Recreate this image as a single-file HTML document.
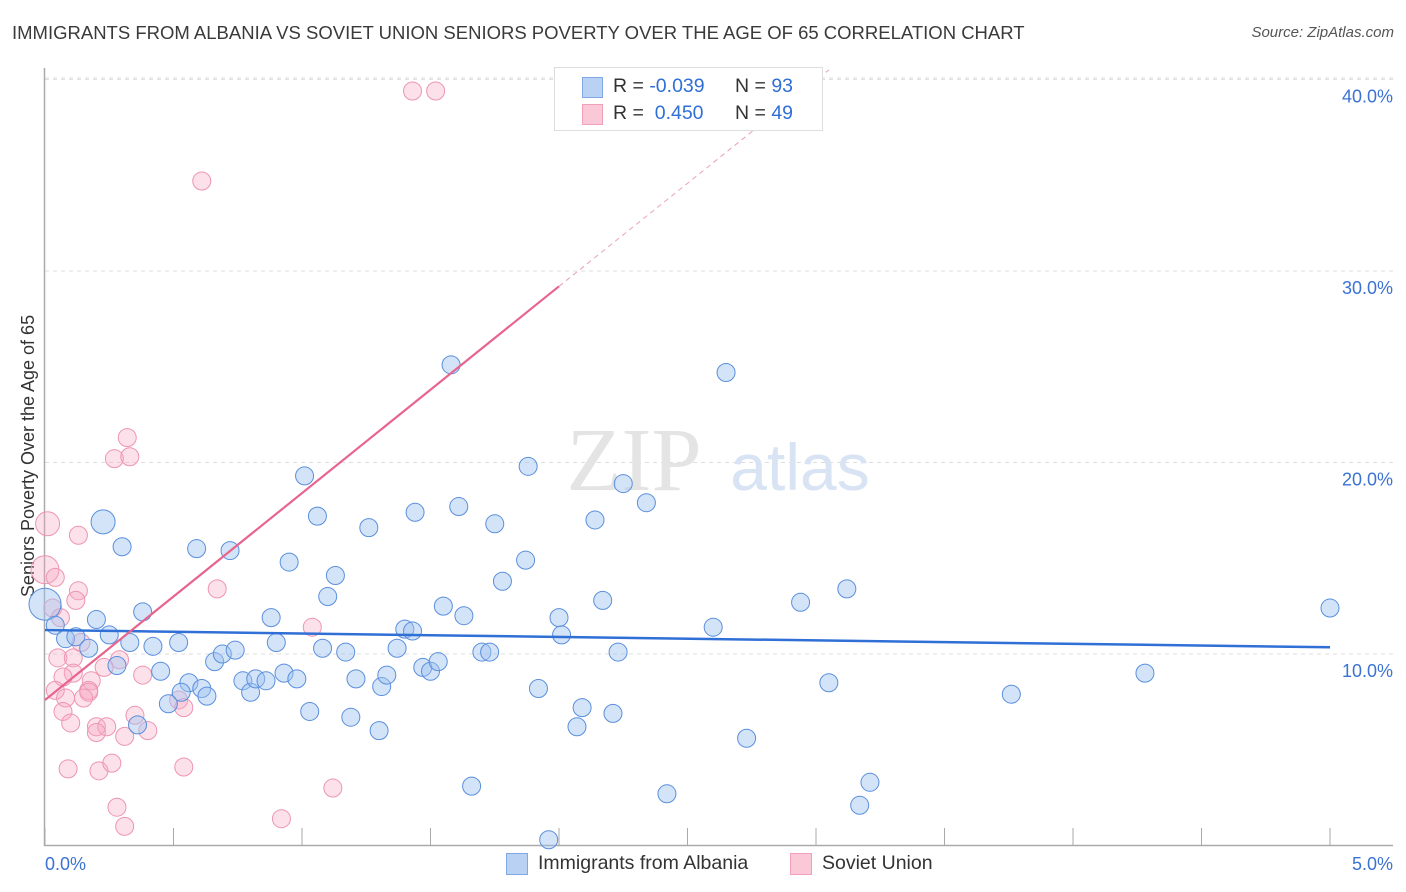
<!DOCTYPE html>
<html><head><meta charset="utf-8"><style>
body{margin:0;background:#fff;font-family:"Liberation Sans",sans-serif;}
#wrap{position:relative;width:1406px;height:892px;overflow:hidden}
.t{position:absolute;white-space:nowrap}
</style></head><body><div id="wrap">
<div class="t" style="left:12px;top:22px;font-size:18.5px;color:#3a3a3a">IMMIGRANTS FROM ALBANIA VS SOVIET UNION SENIORS POVERTY OVER THE AGE OF 65 CORRELATION CHART</div>
<div class="t" style="right:12px;top:24px;font-size:15px;color:#555;font-style:italic">Source: ZipAtlas.com</div>
<svg id="svg" width="1406" height="892" style="position:absolute;left:0;top:0"></svg>
</div>
<script>
const xTicks=[0,0.5,1,1.5,2,2.5,3,3.5,4,4.5,5];
const yTicks=[10,20,30,40];
const yTickLabels=["10.0%","20.0%","30.0%","40.0%"];
const xEndLabels=["0.0%","5.0%"];
const blueX=[0.226,0.30,0,0.04,0.20,0.38,0.25,0.08,0.12,0.17,0.33,0.42,0.52,0.28,0.45,0.36,0.59,0.72,0.56,0.53,0.48,0.61,0.63,0.66,0.69,0.74,0.77,0.80,0.82,0.86,0.88,0.90,0.93,0.98,0.95,1.01,1.03,1.06,1.10,1.13,1.08,1.17,1.19,1.21,1.26,1.30,1.31,1.33,1.37,1.40,1.43,1.44,1.47,1.50,1.53,1.55,1.58,1.61,1.63,1.66,1.70,1.73,1.75,1.78,1.87,1.88,1.92,1.96,2.00,2.01,2.07,2.09,2.14,2.17,2.21,2.23,2.25,2.34,2.42,2.60,2.65,2.73,2.94,3.05,3.12,3.17,3.21,3.76,4.28,5.00];
const blueY=[16.9,15.6,12.6,11.5,11.8,12.2,11.0,10.8,10.9,10.3,10.6,10.4,10.6,9.4,9.1,6.3,15.5,15.4,8.5,8.0,7.4,8.2,7.8,9.6,10.0,10.2,8.6,8.0,8.7,8.6,11.9,10.6,9.0,8.7,14.8,19.3,7.0,17.2,13.0,14.1,10.3,10.1,6.7,8.7,16.6,6.0,8.3,8.9,10.3,11.3,11.2,17.4,9.3,9.1,9.6,12.5,25.1,17.7,12.0,3.1,10.1,10.1,16.8,13.8,14.9,19.8,8.2,0.3,11.9,11.0,6.2,7.2,17.0,12.8,6.9,10.1,18.9,17.9,2.7,11.4,24.7,5.6,12.7,8.5,13.4,2.1,3.3,7.9,9.0,12.4];
const blueR=[12,9,16,9,9,9,9,9,9,9,9,9,9,9,9,9,9,9,9,9,9,9,9,9,9,9,9,9,9,9,9,9,9,9,9,9,9,9,9,9,9,9,9,9,9,9,9,9,9,9,9,9,9,9,9,9,9,9,9,9,9,9,9,9,9,9,9,9,9,9,9,9,9,9,9,9,9,9,9,9,9,9,9,9,9,9,9,9,9,9];
const pinkX=[1.43,1.52,0.61,0.32,0.27,0.33,0.01,0.13,0,0.04,0.13,0.12,0.67,0.03,0.06,1.04,0.14,0.05,0.11,0.29,0.23,0.11,0.07,0.18,0.38,0.04,0.17,0.17,0.08,0.15,0.52,0.54,0.07,0.10,0.35,0.20,0.24,0.20,0.40,0.31,0.09,0.21,0.26,0.54,1.12,0.28,0.31,0.92];
const pinkY=[39.4,39.4,34.7,21.3,20.2,20.3,16.8,16.2,14.4,14.0,13.3,12.8,13.4,12.4,11.9,11.4,10.6,9.8,9.8,9.7,9.3,9.0,8.8,8.6,8.9,8.1,8.1,8.0,7.7,7.7,7.6,7.2,7.0,6.4,6.8,6.2,6.2,5.9,6.0,5.7,4.0,3.9,4.3,4.1,3.0,2.0,1.0,1.4];
const pinkR=[9,9,9,9,9,9,12,9,14,9,9,9,9,9,9,9,9,9,9,9,9,9,9,9,9,9,9,9,9,9,9,9,9,9,9,9,9,9,9,9,9,9,9,9,9,9,9,9,9];
const blueTrend=[11.25,10.35];
const pinkTrend=[7.6,29.2,40.5];
const pinkTrendX=[0,2.0,3.05];

const NS="http://www.w3.org/2000/svg";
const svg=document.getElementById('svg');
const X=v=>45+v*257, Y=v=>845.5-v*19.15;
function mk(tag,attrs){const e=document.createElementNS(NS,tag);for(const k in attrs)e.setAttribute(k,attrs[k]);svg.appendChild(e);return e;}
// gridlines
yTicks.forEach((t,i)=>{
 const g=mk('line',{x1:45,x2:1393,y1:Y(t),y2:Y(t),stroke:'#ddd','stroke-dasharray':'4,4'});
 
 
 const tx=mk('text',{x:1393,y:Y(t)+23,'text-anchor':'end','font-size':18,fill:'#3b72d4','font-family':'Liberation Sans'});
 tx.textContent=yTickLabels[i];
 
 
});
const tl=mk('line',{x1:45,x2:1393,y1:78,y2:78,stroke:'#ddd','stroke-dasharray':'4,4'});


// axes
const ya=mk('line',{x1:44.5,x2:44.5,y1:68,y2:846,stroke:'#aaa','stroke-width':1.5});


const xa=mk('line',{x1:44,x2:1393,y1:845.5,y2:845.5,stroke:'#aaa','stroke-width':1.5});


xTicks.forEach(t=>{const l=mk('line',{x1:X(t),x2:X(t),y1:828,y2:846,stroke:'#aaa'});
 
 });
const x0=mk('text',{x:45,y:870,'font-size':18,fill:'#3b72d4','font-family':'Liberation Sans'});x0.textContent=xEndLabels[0];


const x1=mk('text',{x:1393,y:870,'text-anchor':'end','font-size':18,fill:'#3b72d4','font-family':'Liberation Sans'});x1.textContent=xEndLabels[1];


const yt=mk('text',{x:0,y:0,transform:'translate(34,456) rotate(-90)','text-anchor':'middle','font-size':18,fill:'#333','font-family':'Liberation Sans'});yt.textContent='Seniors Poverty Over the Age of 65';


// watermark
const w1=mk('text',{x:634,y:490,'text-anchor':'middle','font-size':90,fill:'#e4e4e4','font-family':'Liberation Serif'});w1.textContent='ZIP';


const w2=mk('text',{x:800,y:490,'text-anchor':'middle','font-size':66,fill:'#d8e4f4','font-family':'Liberation Sans'});w2.textContent='atlas';


// points
pinkX.forEach((v,i)=>{const c=mk('circle',{cx:X(v),cy:Y(pinkY[i]),r:pinkR[i]||9,fill:'rgba(246,170,195,0.35)',stroke:'#ee95b1','stroke-width':1});
 
 });
blueX.forEach((v,i)=>{const c=mk('circle',{cx:X(v),cy:Y(blueY[i]),r:blueR[i]||9,fill:'rgba(160,195,240,0.45)',stroke:'#5a8fdd','stroke-width':1});
 
 });
// trends
const bt=mk('line',{x1:X(0),x2:X(5),y1:Y(blueTrend[0]),y2:Y(blueTrend[1]),stroke:'#2f6fd6','stroke-width':2.5});


const pt=mk('line',{x1:X(pinkTrendX[0]),x2:X(pinkTrendX[1]),y1:Y(pinkTrend[0]),y2:Y(pinkTrend[1]),stroke:'#e8648f','stroke-width':2.2});


const pd=mk('line',{x1:X(pinkTrendX[1]),x2:X(pinkTrendX[2]),y1:Y(pinkTrend[1]),y2:Y(pinkTrend[2]),stroke:'#eaa0b8','stroke-width':1,'stroke-dasharray':'5,4'});


</script>
<div style="position:absolute;left:554px;top:67px;width:267px;height:62px;border:1px solid #ddd;background:#fff;font-size:19.5px;color:#333">
 <div style="position:absolute;left:27px;top:9px;width:19px;height:19px;background:#b9d2f4;border:1px solid #7fa8e4"></div>
 <div style="position:absolute;left:27px;top:36px;width:19px;height:19px;background:#fbc8d8;border:1px solid #f0a0bb"></div>
 <div class="t" style="left:58px;top:7px">R = <span style="color:#2f6fd6">-0.039</span></div>
 <div class="t" style="left:180px;top:7px">N = <span style="color:#2f6fd6">93</span></div>
 <div class="t" style="left:58px;top:34px">R = &nbsp;<span style="color:#2f6fd6">0.450</span></div>
 <div class="t" style="left:180px;top:34px">N = <span style="color:#2f6fd6">49</span></div>
</div>
<div style="position:absolute;left:506px;top:852px;font-size:19.5px;color:#333">
 <div style="position:absolute;left:0;top:1px;width:20px;height:20px;background:#b9d2f4;border:1px solid #7fa8e4"></div>
 <div class="t" style="left:32px;top:0">Immigrants from Albania</div>
 <div style="position:absolute;left:284px;top:1px;width:20px;height:20px;background:#fbc8d8;border:1px solid #f0a0bb"></div>
 <div class="t" style="left:316px;top:0">Soviet Union</div>
</div>
</body></html>
